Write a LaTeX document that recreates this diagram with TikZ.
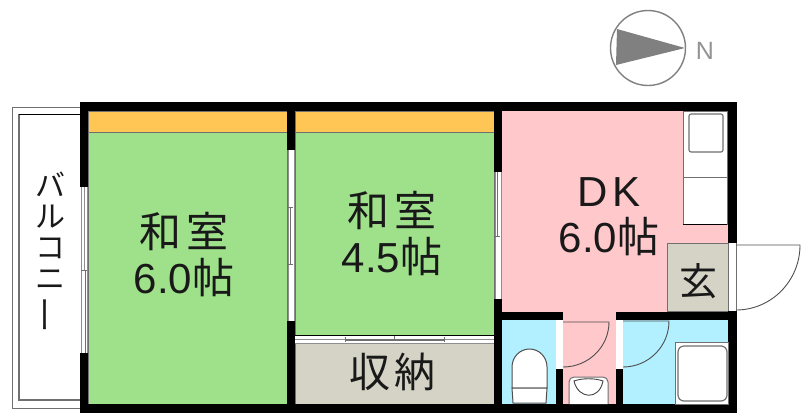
\documentclass[tikz,border=0pt]{standalone}
\usepackage{fontspec}
\setmainfont{Liberation Sans}
\newfontfamily\cjk{Noto Sans CJK JP}
\definecolor{tatami}{HTML}{9FE08B}
\definecolor{oshi}{HTML}{FFC655}
\definecolor{dk}{HTML}{FFC8CB}
\definecolor{wet}{HTML}{B2EFFF}
\definecolor{beige}{HTML}{D5D3C6}
\definecolor{line}{HTML}{707070}
\definecolor{compass}{HTML}{808080}
\tikzset{
  fillbox/.style={draw=line,line width=0.8pt},
  wall/.style={fill=black,draw=none},
  fix/.style={fill=white,draw=line,line width=0.8pt},
  winline/.style={draw=line!80,line width=0.9pt},
  door/.style={draw=line!70!black,line width=0.9pt},
  label/.style={inner sep=0pt,align=center,font=\fontsize{42}{46}\selectfont,text=black!90},
  tick/.style={draw=line,line width=0.8pt},
}
\newcommand{\tcj}[1]{{\cjk #1}}
\begin{document}
\begin{tikzpicture}[x=1pt,y=-1pt]
\useasboundingbox (0,0) rectangle (802,413);
% balcony
\draw[line,line width=0.9pt] (80,107) -- (12,107) -- (12,408) -- (80,408);
\draw[line,line width=1.1pt] (80,400) -- (19,400) -- (19,114);
\draw[black,line width=0.9pt] (19,114) -- (80,114);
% floors
\fill[dk] (502,111) rectangle (728,312);
\fill[dk] (563,312) rectangle (616,404);
\draw[fillbox,fill=tatami] (88,132) rectangle (287,404);
\draw[fillbox,fill=oshi] (88,111) rectangle (287,132);
\draw[fillbox,fill=tatami] (295,132) rectangle (494,335);
\draw[fillbox,fill=oshi] (295,111) rectangle (494,132);
\draw[fillbox,fill=beige] (295,343) rectangle (494,404);
\fill[wet] (502,320) rectangle (556,404);
\fill[wet] (623,320) rectangle (728,404);
\draw[fillbox,fill=beige] (667,243) rectangle (728,311);
% closet doors
\fill[white] (295,335) rectangle (494,343);
\draw[black,line width=0.9pt] (295,335) -- (494,335);
\draw[winline] (295,339) -- (345,339);
\draw[winline] (444,339) -- (494,339);
\draw[line,line width=1.5pt] (345,340) -- (444,340);
\draw[winline] (295,343) -- (494,343);
\draw[tick] (345,337) -- (345,342) (394,336) -- (394,341) (444,337) -- (444,342);
% walls
\fill[wall] (80,102) rectangle (737,111);
\fill[wall] (80,404) rectangle (737,413);
\fill[wall] (80,102) rectangle (88,187);
\fill[wall] (80,353) rectangle (88,413);
\fill[wall] (287,102) rectangle (295,150);
\fill[wall] (287,321) rectangle (295,413);
\fill[wall] (494,102) rectangle (502,172);
\fill[wall] (494,299) rectangle (502,413);
\fill[wall] (728,102) rectangle (737,243);
\fill[wall] (728,311) rectangle (737,413);
\fill[wall] (502,312) rectangle (563,320);
\fill[wall] (616,312) rectangle (737,320);
\fill[wall] (556,369) rectangle (563,413);
\fill[wall] (616,369) rectangle (623,413);
% windows
\fill[white] (81,187) rectangle (87,353);
\draw[winline] (81,187) -- (81,353) (87,187) -- (87,353) (84,187) -- (84,270);
\draw[line,line width=1pt] (85,270) -- (85,353);
\draw[tick] (81,270) -- (87,270);
\fill[white] (288,150) rectangle (294,321);
\draw[winline] (288,150) -- (288,321) (294,150) -- (294,321);
\draw[line,line width=0.8pt] (290,207) -- (290,264);
\draw[tick] (287,207) -- (293,207) (287,264) -- (293,264);
\fill[white] (495,172) rectangle (501,299);
\draw[winline] (495,172) -- (495,299) (501,172) -- (501,299);
\draw[line,line width=0.8pt] (497,172) -- (497,236);
\draw[tick] (494,236) -- (500,236);
% entry door
\fill[white] (729,243) rectangle (736,311);
\draw[line,line width=0.8pt] (736,243) -- (736,311);
\draw[door] (736,245) -- (800,245) arc[start angle=0,end angle=90,x radius=64,y radius=65];
% interior door frames
\fill[white] (556,320) rectangle (563,369);
\fill[white] (616,320) rectangle (623,369);
\draw[door] (563,322) -- (609,322) arc[start angle=0,end angle=90,x radius=46,y radius=45];
\draw[door] (623,321) -- (669,321) arc[start angle=0,end angle=90,x radius=46,y radius=46];
% kitchen
\draw[line,line width=0.9pt,fill=white] (683,111) rectangle (727,224);
\draw[black,line width=0.9pt] (683,224) -- (727,224);
\draw[line,line width=0.9pt] (683,177) -- (727,177);
\draw[line,line width=1.1pt,rounded corners=2pt,fill=white] (689,114) rectangle (723,152);
% bathtub
\draw[line,line width=0.9pt,fill=white] (675,342) rectangle (728,404);
\draw[line,line width=1.2pt,rounded corners=6pt,fill=white] (678,346) rectangle (727,401);
% toilet
\draw[line!70!black,line width=1pt,fill=white] (512,388) -- (512,367) arc[start angle=180,end angle=0,x radius=17.5,y radius=-18] -- (547,388) -- cycle;
\draw[line!70!black,line width=1pt,fill=white] (512,388) -- (513,403) -- (546,403) -- (547,388) -- cycle;
% wash basin
\draw[line,line width=1pt,fill=white,rounded corners=5pt] (569,404) -- (569,377) -- (608,377) -- (608,404);
\draw[line!60!black,line width=0.9pt] (574,381) .. controls (578,399) and (599,401) .. (603,381) .. controls (595,378) and (582,378) .. (574,381) -- cycle;
% compass
\draw[compass,line width=1.4pt] (648,48) circle[radius=37.5];
\fill[compass] (617,29) -- (685,48) -- (616,65) -- cycle;
\node[inner sep=0pt,anchor=base,text=compass!85,font=\fontsize{25}{25}\selectfont] (north) at (705,59) {N};
% labels
\node[label,anchor=base] (room1) at (184,293) {\tcj{和\hspace{5pt}室}\\6.0\tcj{帖}};
\node[label,anchor=base] (room2) at (392,272) {\tcj{和\hspace{5pt}室}\\4.5\tcj{帖}};
\node[label,anchor=base] (dkroom) at (609,252) {D\hspace{4pt}K\\6.0\tcj{帖}};
\node[label,anchor=center,font=\fontsize{41}{46}\selectfont] (closet) at (392.5,372) {\tcj{収\hspace{5pt}納}};
\node[label,anchor=center,font=\fontsize{38}{40}\selectfont] (genkan) at (698,281) {\tcj{玄}};
\node[inner sep=0pt,align=center,text=black!90,font=\fontsize{30}{31}\selectfont,anchor=north] (balc) at (50,172) {\tcj{バ}\\\tcj{ル}\\\tcj{コ}\\\tcj{ニ}\\\rotatebox[origin=c]{90}{\scalebox{1.25}[1]{\tcj{ー}}}};
\end{tikzpicture}
\end{document}
